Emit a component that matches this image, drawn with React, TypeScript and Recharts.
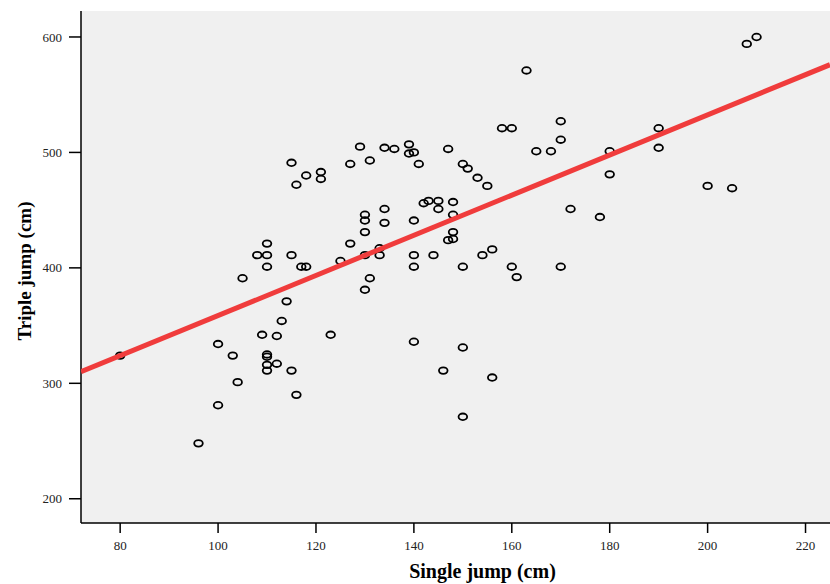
import { ScatterChart, Scatter, XAxis, YAxis, CartesianGrid, Label } from 'recharts';

// single jump (cm) / triple jump (cm)
const singleJump = [
  80, 96, 100, 100, 103, 104, 105, 108, 110, 110, 110, 109, 110, 110, 110, 110,
  112, 113, 112, 114, 115, 115, 115, 116, 116, 117, 118, 118, 121, 121, 123, 125,
  127, 127, 129, 130, 130, 130, 130, 130, 131, 131, 133, 133, 134, 134, 134, 136,
  139, 139, 140, 141, 140, 140, 140, 140, 142, 143, 145, 145, 147, 147, 148, 148,
  148, 148, 144, 146, 150, 151, 153, 155, 150, 150, 150, 154, 156, 156, 158, 160,
  160, 161, 163, 165, 168, 170, 170, 170, 172, 178, 180, 180, 190, 190, 200, 205,
  208, 210,
];
const tripleJump = [
  324, 248, 334, 281, 324, 301, 391, 411, 421, 411, 401, 342, 325, 323, 316, 311,
  341, 354, 317, 371, 311, 411, 491, 472, 290, 401, 401, 480, 483, 477, 342, 406,
  421, 490, 505, 446, 441, 431, 411, 381, 493, 391, 417, 411, 504, 451, 439, 503,
  507, 499, 500, 490, 441, 411, 401, 336, 456, 458, 458, 451, 503, 424, 425, 431,
  446, 457, 411, 311, 490, 486, 478, 471, 401, 331, 271, 411, 416, 305, 521, 521,
  401, 392, 571, 501, 501, 527, 511, 401, 451, 444, 501, 481, 521, 504, 471, 469,
  594, 600,
];

// fitted line, end values at the plot edges
const fitX = [72, 225];
const fitY = [310, 576];

const xTicks = [80, 100, 120, 140, 160, 180, 200, 220];
const yTicks = [200, 300, 400, 500, 600];

const points = singleJump.map((x, i) => ({ x, y: tripleJump[i] }));
const fitLine = fitX.map((x, i) => ({ x, y: fitY[i] }));

const font = '"Liberation Serif", "Times New Roman", serif';

const Ring = (props: any) => {
  const { cx, cy } = props;
  if (cx == null || cy == null) return <g />;
  return <ellipse cx={cx} cy={cy} rx={4.3} ry={3.3} fill="none" stroke="#000" strokeWidth={1.8} />;
};

export default function App() {
  return (
    <div style={{ position: 'absolute', left: 0, top: 0, width: 830, height: 584, overflow: 'hidden', background: '#fff' }}>
      <ScatterChart width={830} height={584} margin={{ top: 11, right: 0, bottom: 0, left: 0 }}>
        <CartesianGrid fill="#f0f0f0" horizontal={false} vertical={false} />
        <XAxis
          xAxisId="top"
          orientation="top"
          type="number"
          dataKey="x"
          domain={[72, 225]}
          allowDataOverflow
          height={0}
          tick={false}
          tickLine={false}
          axisLine={{ stroke: '#808080', strokeWidth: 2 }}
        />
        <XAxis
          type="number"
          dataKey="x"
          domain={[72, 225]}
          allowDataOverflow
          ticks={xTicks}
          height={61}
          tickSize={10}
          tickMargin={8}
          axisLine={{ stroke: '#000', strokeWidth: 1.5 }}
          tickLine={{ stroke: '#000', strokeWidth: 1.5 }}
          tick={{ fill: '#222', fontSize: 13, fontFamily: font }}
        >
          <Label
            value="Single jump (cm)"
            position="insideBottom"
            offset={6}
            dx={27}
            style={{ fontFamily: font, fontWeight: 'bold', fontSize: 20, fill: '#000' }}
          />
        </XAxis>
        <YAxis
          type="number"
          dataKey="y"
          domain={[179, 622.5]}
          allowDataOverflow
          ticks={yTicks}
          width={81}
          tickSize={12}
          tickMargin={7}
          axisLine={{ stroke: '#000', strokeWidth: 1.5 }}
          tickLine={{ stroke: '#000', strokeWidth: 1.5 }}
          tick={{ fill: '#222', fontSize: 13, fontFamily: font }}
        >
          <Label
            content={() => (
              <text
                x={24}
                y={271}
                transform="rotate(-90 24 271)"
                textAnchor="middle"
                dominantBaseline="central"
                style={{ fontFamily: font, fontWeight: 'bold', fontSize: 19, fill: '#000' }}
              >
                Triple jump (cm)
              </text>
            )}
          />
        </YAxis>
        <Scatter data={points} shape={Ring} isAnimationActive={false} />
        <Scatter
          data={fitLine}
          line={{ stroke: '#f03c3c', strokeWidth: 5 }}
          lineType="joint"
          shape={() => <g />}
          isAnimationActive={false}
        />
      </ScatterChart>
    </div>
  );
}
